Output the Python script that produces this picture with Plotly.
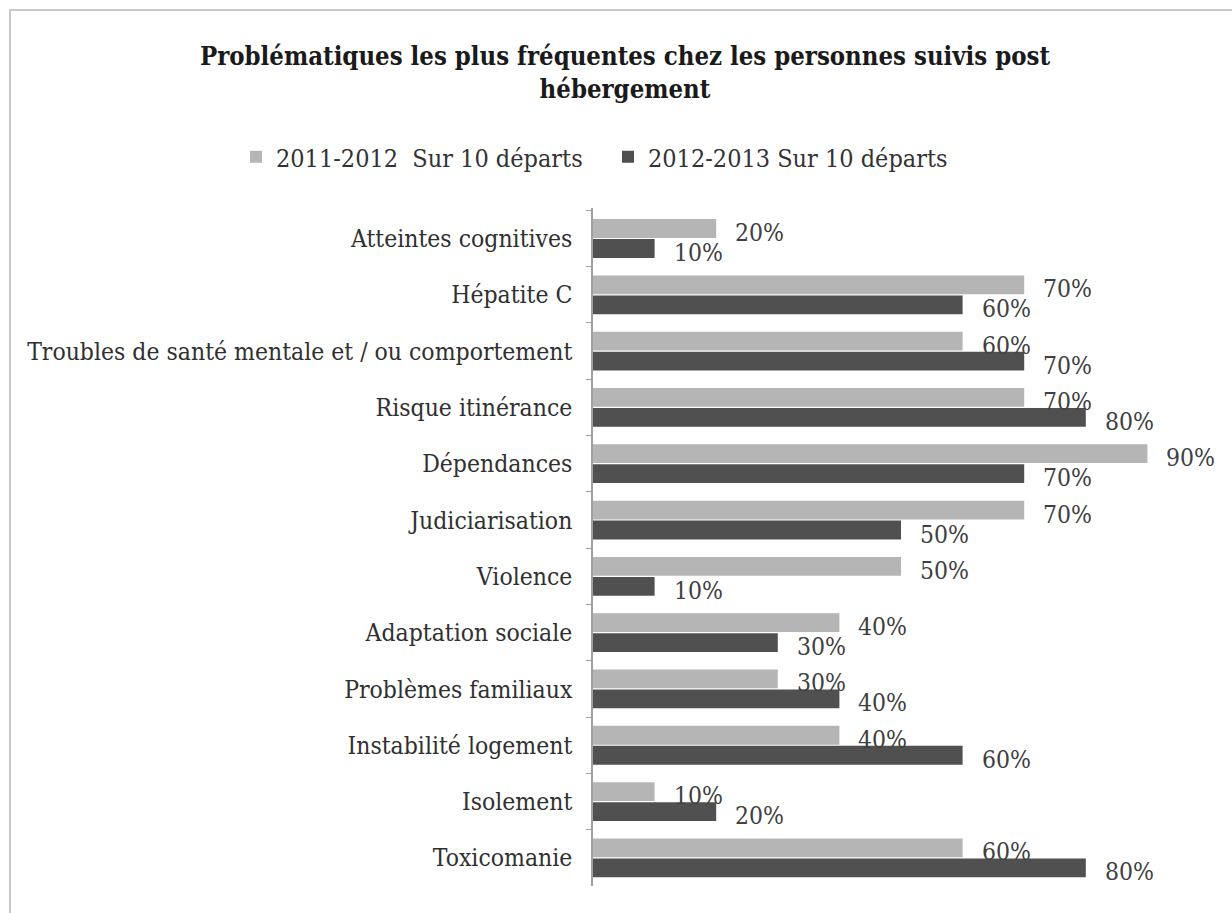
import plotly.graph_objects as go

categories = [
    "Atteintes cognitives",
    "Hépatite C",
    "Troubles de santé mentale et / ou comportement",
    "Risque itinérance",
    "Dépendances",
    "Judiciarisation",
    "Violence",
    "Adaptation sociale",
    "Problèmes familiaux",
    "Instabilité logement",
    "Isolement",
    "Toxicomanie",
]
series_2011 = [0.20, 0.70, 0.60, 0.70, 0.90, 0.70, 0.50, 0.40, 0.30, 0.40, 0.10, 0.60]
series_2012 = [0.10, 0.60, 0.70, 0.80, 0.70, 0.50, 0.10, 0.30, 0.40, 0.60, 0.20, 0.80]
name_2011 = "2011-2012  Sur 10 départs"
name_2012 = "2012-2013 Sur 10 départs"
title_text = "Problématiques les plus fréquentes chez les personnes suivis post<br>hébergement"

W, H = 1232, 913
ML, MR, MT, MB = 20, 23, 208, 27
AXIS_X = 593  # pixel position of the value axis start
FONT = "DejaVu Serif Condensed, DejaVu Serif, serif"
LIGHT = "#b5b5b5"
DARK = "#505050"

pw = W - ML - MR
ph = H - MT - MB
def px_to_paper_x(px):
    return (px - ML) / pw
def px_to_paper_y(py):
    return 1 - (py - MT) / ph

fig = go.Figure()
fig.add_trace(go.Bar(y=categories, x=series_2011, orientation="h", name=name_2011,
                     marker=dict(color=LIGHT, line=dict(width=0))))
fig.add_trace(go.Bar(y=categories, x=series_2012, orientation="h", name=name_2012,
                     marker=dict(color=DARK, line=dict(width=0))))

annotations = []
for cat, v in zip(categories, series_2011):
    annotations.append(dict(x=v, y=cat, xref="x", yref="y", text=f"{round(v*100)}%",
                            showarrow=False, xanchor="left", yanchor="middle",
                            xshift=17, yshift=6,
                            font=dict(family=FONT, size=24.5, color="#404040")))
for cat, v in zip(categories, series_2012):
    annotations.append(dict(x=v, y=cat, xref="x", yref="y", text=f"{round(v*100)}%",
                            showarrow=False, xanchor="left", yanchor="middle",
                            xshift=17, yshift=-14,
                            font=dict(family=FONT, size=24.5, color="#404040")))

fig.update_layout(
    width=W, height=H,
    margin=dict(l=ML, r=MR, t=MT, b=MB),
    paper_bgcolor="white", plot_bgcolor="white",
    barmode="group", bargap=0.29, bargroupgap=0.06,
    font=dict(family=FONT, size=24, color="#303030"),
    title=dict(text=title_text, xref="container", x=625 / W, xanchor="center",
               yref="container", y=1 - 65 / H, yanchor="top",
               font=dict(family=FONT, size=25.5, color="#1a1a1a", weight="bold")),
    legend=dict(orientation="h", xref="container", x=236 / W, xanchor="left",
                yref="container", y=1 - 157 / H, yanchor="middle",
                font=dict(family=FONT, size=25, color="#333333"),
                itemwidth=30, entrywidth=327, traceorder="normal",
                bgcolor="rgba(0,0,0,0)"),
    xaxis=dict(domain=[px_to_paper_x(AXIS_X), 1], range=[0, 1], showgrid=False,
               zeroline=False, showticklabels=False, showline=False, ticks=""),
    yaxis=dict(autorange="reversed", showline=True, linecolor="#a0a0a0", linewidth=1.5,
               ticks="outside", tickson="boundaries", ticklen=5, tickcolor="#a0a0a0",
               ticklabelstandoff=14, showgrid=False, automargin=False,
               tickfont=dict(family=FONT, size=24.5, color="#303030")),
    annotations=annotations,
    shapes=[dict(type="rect", xref="paper", yref="paper",
                 x0=px_to_paper_x(10), x1=px_to_paper_x(1300),
                 y0=px_to_paper_y(1000), y1=px_to_paper_y(10),
                 line=dict(color="#c8c8c8", width=2), fillcolor="rgba(0,0,0,0)",
                 layer="below")],
)

fig.write_html("out.html")
